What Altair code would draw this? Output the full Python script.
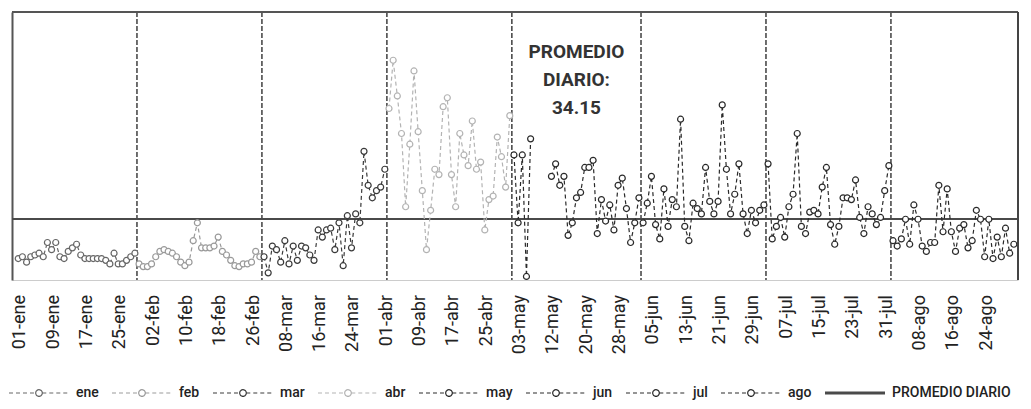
import altair as alt
import pandas as pd

# ---------------- data ----------------
months = ["ene", "feb", "mar", "abr", "may", "jun", "jul", "ago"]

ene = [12, 13, 10, 13, 14, 15, 13, 21, 17, 21, 13, 12, 16, 18, 20, 14, 12, 12, 12, 12,
       12, 11, 9, 15, 9, 9, 11, 13, 15]
feb = [9, 7.5, 7.5, 9, 13, 16, 17, 16, 15, 13, 10, 8, 10, 22, 32, 18, 18, 18, 19, 24,
       16, 14, 11, 8, 7.5, 9, 9, 10, 16, 13]
mar = [13, 4, 19, 17, 10, 22, 9, 19, 11, 19, 18, 14, 11, 28, 24, 28, 29, 17, 32, 8,
       36, 18, 37, 32, 72, 53, 46, 50, 52, 62]
abr = [96, 123, 103, 82, 41, 76, 117, 83, 50, 17, 39, 62, 59, 97, 102, 59, 41, 82, 70, 64,
       89, 62, 66, 28, 45, 47, 80, 69, 52, 92]
may = [70, 32, 70, 2, 79, None, None, None, None, 58, 65, 53, 58, 25, 32, 46, 49, 63, 63, 67,
       26, 45, 33, 42, 28, 53, 57, 40, 21, 32, 46]
jun = [32, 43, 58, 31, 23, 51, 30, 45, 41, 90, 30, 22, 43, 40, 37, 63, 44, 37, 44, 98,
       62, 37, 48, 65, 37, 26, 39, 32, 39, 42]
jul = [65, 23, 30, 35, 24, 41, 48, 82, 30, 26, 38, 39, 37, 52, 63, 31, 20, 30, 46, 46,
       45, 56, 35, 26, 41, 37, 31, 35, 50, 64]
ago = [22, 19, 23, 34, 20, 42, 34, 19, 16, 21, 21, 53, 27, 51, 27, 16, 29, 31, 18, 22,
       39, 34, 13, 34, 12, 24, 13, 29, 15, 20]
series = [ene, feb, mar, abr, may, jun, jul, ago]

promedio = 34.15
promedio_label = "PROMEDIO DIARIO"

tick_labels = ["01-ene", "09-ene", "17-ene", "25-ene", "02-feb", "10-feb", "18-feb", "26-feb",
               "08-mar", "16-mar", "24-mar", "01-abr", "09-abr", "17-abr", "25-abr", "03-may",
               "12-may", "20-may", "28-may", "05-jun", "13-jun", "21-jun", "29-jun", "07-jul",
               "15-jul", "23-jul", "31-jul", "08-ago", "16-ago", "24-ago"]
tick_step = 8

colors = ["#666666", "#9a9a9a", "#3a3a3a", "#b3b3b3", "#2a2a2a", "#2a2a2a", "#2a2a2a",
          "#2a2a2a", "#4a4a4a"]

# ---------------- build tables ----------------
rows = []
bounds = []
idx = 0
for m, vals in zip(months, series):
    seg = 0
    for v in vals:
        if v is None:
            seg += 1
        else:
            rows.append({"i": idx, "v": v, "mes": m, "seg": f"{m}{seg}"})
        idx += 1
    bounds.append(idx - 0.5)
bounds = bounds[:-1]
n_total = idx

df = pd.DataFrame(rows)
df_bounds = pd.DataFrame({"b": bounds})
df_mean = pd.DataFrame({"m": [promedio], "mes": [promedio_label]})
df_text = pd.DataFrame({"x": [134], "y": [127.5],
                        "t": [f"PROMEDIO\nDIARIO:\n{promedio:.2f}"]})
df_ticks = pd.DataFrame({"i": [k * tick_step for k in range(len(tick_labels))],
                         "lab": tick_labels})

# ---------------- scales / axes / legend ----------------
x_scale = alt.Scale(domain=[-1.5, n_total], nice=False, zero=False)
y_scale = alt.Scale(domain=[0, 150], nice=False, zero=True)
color_scale = alt.Scale(domain=months + [promedio_label], range=colors)

x_axis = alt.Axis(labels=False, ticks=False, grid=False, title=None,
                  domainColor="#cccccc", domainWidth=1)
y_axis = alt.Axis(labels=False, ticks=False, grid=False, title=None,
                  domainColor="#555555", domainWidth=2)

# legend symbol: dashed line with a small circle in the middle (unit coords -1..1)
r = 0.11
dash, gap = 0.133, 0.1
parts = []
p = -1.0
while p < -r:
    e = min(p + dash, -r)
    parts.append(f"M{p:.3f},0H{e:.3f}")
    p += dash + gap
p = r
while p < 1.0:
    e = min(p + dash, 1.0)
    parts.append(f"M{p:.3f},0H{e:.3f}")
    p += dash + gap
parts.append(f"M{r},0A{r},{r},0,1,1,{-r},0A{r},{r},0,1,1,{r},0")
dash_path = "".join(parts)
solid_path = "M-1,-0.027H1M-1,0H1M-1,0.027H1"

test = f"datum.value === '{promedio_label}'"
legend = alt.Legend(
    title=None, orient="none", direction="horizontal", legendX=-4, legendY=350,
    symbolSize=3600, labelFont="Roboto", labelFontSize=14, labelColor="#222222",
    labelFontWeight=500, labelOffset=6, columnPadding=10, padding=0,
    symbolType={"expr": f"{test} ? '{solid_path}' : '{dash_path}'"},
    symbolStrokeWidth=1.2,
    symbolDash=[1, 0],
    symbolFillColor="white",
    symbolOpacity=1,
)

color_enc = alt.Color("mes:N", scale=color_scale, legend=legend)
x_enc = lambda f: alt.X(f, scale=x_scale, axis=x_axis)
y_enc = lambda f: alt.Y(f, scale=y_scale, axis=y_axis)

# ---------------- layers ----------------
month_rules = alt.Chart(df_bounds).mark_rule(
    strokeDash=[5, 2], color="#222222", strokeWidth=1.3
).encode(x=x_enc("b:Q"))

mean_rule = alt.Chart(df_mean).mark_rule(strokeWidth=2.2).encode(
    y=y_enc("m:Q"), color=color_enc)

lines = alt.Chart(df).mark_line(strokeDash=[4, 3], strokeWidth=1.2).encode(
    x=x_enc("i:Q"), y=y_enc("v:Q"), color=color_enc, detail="seg:N")

points = alt.Chart(df).mark_point(
    filled=False, fill="white", fillOpacity=1, size=36, strokeWidth=1.2, opacity=1
).encode(x=x_enc("i:Q"), y=y_enc("v:Q"), color=color_enc)

note = alt.Chart(df_text).mark_text(
    lineBreak="\n", lineHeight=28, fontSize=19, fontWeight="bold", font="Roboto",
    color="#333333", align="center", baseline="middle"
).encode(x=x_enc("x:Q"), y=y_enc("y:Q"), text="t:N")

# x tick labels (rotated), anchored at the bottom of the plot
tick_text = alt.Chart(df_ticks).mark_text(
    angle=270, align="right", baseline="middle", dx=-15, dy=2, fontSize=18,
    font="Roboto", color="#222222"
).encode(x=x_enc("i:Q"), y=alt.Y(datum=0, scale=y_scale, axis=y_axis), text="lab:N")

top_rule = alt.Chart(df_mean).mark_rule(color="#555555", strokeWidth=2).encode(
    y=alt.Y(datum=150, scale=y_scale, axis=y_axis))
right_rule = alt.Chart(df_mean).mark_rule(color="#444444", strokeWidth=2).encode(
    x=alt.X(datum=n_total, scale=x_scale, axis=x_axis))

chart = alt.layer(month_rules, mean_rule, lines, points, note, tick_text,
                  top_rule, right_rule).properties(
    width=1006, height=268,
    autosize=alt.AutoSizeParams(type="none"),
    padding={"left": 4, "top": 4, "right": 5, "bottom": 121},
).configure_view(stroke=None)

chart.save("out.html", embed_options={"renderer": "svg", "actions": False})
